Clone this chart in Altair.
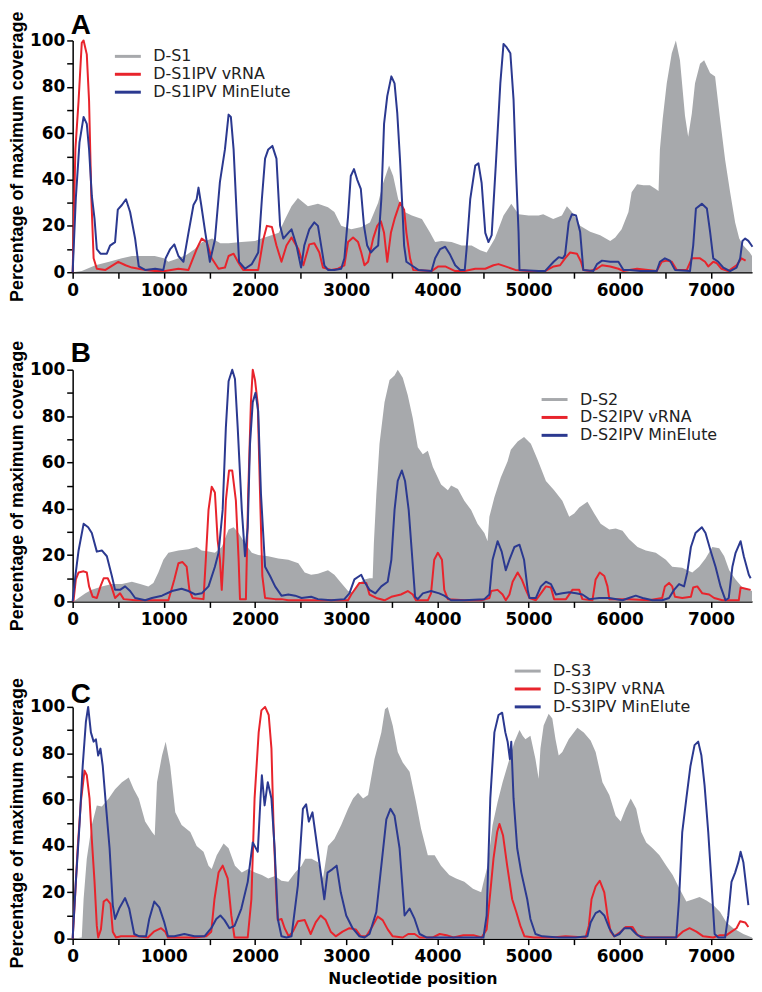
import altair as alt
import pandas as pd

GREY = "#a7a9ac"
RED = "#e8242c"
BLUE = "#2b3990"

A_NAMES = ["D-S1", "D-S1IPV vRNA", "D-S1IPV MinElute"]
B_NAMES = ["D-S2", "D-S2IPV vRNA", "D-S2IPV MinElute"]
C_NAMES = ["D-S3", "D-S3IPV vRNA", "D-S3IPV MinElute"]

A_GREY = [(0,0),(100,0.5),(250,3),(400,4.5),(540,6),(650,7),(800,7),(900,7),(1000,6),(1050,4.5),(1160,6),(1250,7.5),(1340,10),(1420,13),(1530,14.5),(1620,12.5),(1710,12.5),(1850,13),(2000,13.5),(2070,14.5),(2180,16),(2260,17),(2330,23),(2400,28.5),(2470,32),(2580,28.5),(2690,29.5),(2800,28),(2870,26),(2945,20),(3055,18.5),(3165,19.5),(3260,21.5),(3350,30),(3405,38.5),(3470,46),(3515,41.5),(3570,31.5),(3640,26),(3720,24.5),(3830,23),(3920,17),(3975,13),(4045,13.5),(4155,13),(4265,11.5),(4375,11.5),(4470,9.5),(4540,8.5),(4630,14.5),(4725,24.5),(4810,29.5),(4890,25),(5000,24.5),(5110,24.5),(5160,25),(5270,23),(5365,24.5),(5420,28.5),(5475,26),(5565,20),(5675,17.5),(5785,16),(5895,13.5),(5950,15),(6020,18.5),(6095,26),(6130,34.5),(6190,38),(6260,37.5),(6330,37.5),(6390,36),(6425,35),(6440,53),(6470,66),(6515,81.5),(6570,94.5),(6615,100),(6660,91.5),(6715,67.5),(6750,58.5),(6790,68.5),(6825,81.5),(6880,90),(6925,91.5),(6990,86),(7045,84.5),(7100,66),(7155,48.5),(7210,34.5),(7265,21.5),(7310,14.5),(7355,11.5),(7425,8.5),(7450,7)]
A_RED = [(0,0),(30,53),(65,74),(100,99),(120,100),(155,94),(180,74),(205,32),(230,6),(265,1.5),(360,1),(500,4.5),(580,3),(650,2),(800,1),(900,0.5),(1015,0.5),(1160,1.5),(1270,1),(1360,10),(1415,14.5),(1470,13),(1525,6),(1600,1.5),(1670,2),(1710,7),(1765,8),(1820,4),(1870,1),(2035,1),(2090,14),(2130,20),(2185,19.5),(2235,11.5),(2290,4.5),(2345,11.5),(2400,15),(2475,10),(2530,3),(2595,12),(2650,12.5),(2705,8.5),(2745,2),(2835,1),(2910,1.5),(2980,3),(3020,13),(3075,15),(3130,13),(3165,8.5),(3200,3),(3240,4.5),(3295,14.5),(3340,20),(3380,22),(3415,17),(3450,4.5),(3490,17),(3530,23),(3590,30),(3635,27),(3660,17),(3700,6),(3735,1),(3935,0.5),(4010,2.5),(4085,2.5),(4195,0.5),(4300,0.5),(4415,1.5),(4525,1.5),(4615,3),(4670,3.5),(4745,2.5),(4855,1),(5000,0.5),(5180,0.5),(5275,2.5),(5345,3),(5400,6),(5455,8.5),(5530,8),(5575,4.5),(5600,1),(5675,0.5),(5750,1.5),(5805,3),(5895,2.5),(5985,1.5),(6040,0.5),(6190,1.5),(6405,0.5),(6460,4.5),(6515,5),(6570,4.5),(6625,1),(6735,1),(6790,6),(6880,6),(6935,4.5),(6970,2.5),(7025,4.5),(7060,4),(7115,1.5),(7190,0.5),(7280,3),(7335,6),(7380,5)]
A_BLUE = [(0,0),(35,32),(75,56),(120,67),(155,64),(180,53),(210,33),(240,23),(265,10),(305,8),(375,8),(410,11.5),(465,13),(495,27),(540,29),(585,31.5),(630,26),(685,14.5),(725,2.5),(795,1),(905,1.5),(995,1),(1020,6),(1070,10),(1115,12),(1160,7),(1215,4.5),(1270,17),(1325,29),(1360,31.5),(1380,36.5),(1410,29),(1455,17),(1505,4.5),(1560,14),(1615,39),(1670,53),(1710,68),(1735,67),(1765,53),(1800,24),(1825,4.5),(1890,1.5),(1965,3.5),(2035,8.5),(2075,31.5),(2110,49),(2145,53),(2190,54.5),(2235,49),(2275,20),(2310,14.5),(2365,17),(2400,18.5),(2455,11.5),(2505,2),(2540,11.5),(2595,18.5),(2650,21.5),(2690,20),(2725,11.5),(2760,3),(2800,1),(2870,1),(2945,1.5),(2980,6),(3020,24),(3050,41.5),(3085,44.5),(3120,40),(3160,36),(3195,20),(3230,11.5),(3270,8.5),(3305,10),(3350,11.5),(3385,31.5),(3415,64),(3450,76),(3495,84.5),(3530,81.5),(3560,68.5),(3590,48.5),(3615,28.5),(3635,11.5),(3660,4.5),(3715,3),(3790,1),(3935,0.5),(3975,6),(4030,10),(4085,11),(4140,7.5),(4195,3),(4250,1),(4300,1),(4320,10),(4360,31.5),(4415,46),(4450,47),(4485,38.5),(4525,17),(4560,13),(4595,16),(4640,46),(4690,81.5),(4725,98.5),(4760,97),(4800,94.5),(4835,74.5),(4860,46),(4890,17),(4900,1),(5110,0.5),(5180,0.5),(5275,4.5),(5330,6.5),(5375,6),(5400,7.5),(5440,21.5),(5475,25),(5520,24.5),(5565,17.5),(5600,1),(5710,0.5),(5750,3.5),(5805,5),(5895,4.5),(5985,4.5),(6040,1),(6115,1),(6225,0.5),(6405,0.5),(6440,4.5),(6495,6),(6550,5),(6605,1),(6770,0.5),(6805,11.5),(6835,27.5),(6900,29.5),(6955,27.5),(6990,17.5),(7025,6),(7080,4.5),(7135,2),(7210,0.5),(7280,2),(7320,6),(7345,13.5),(7375,14.5),(7410,13.5),(7455,11)]

B_GREY = [(0,0),(30,0.5),(140,3.5),(210,5),(320,6.5),(430,7.5),(540,7.5),(650,8.5),(740,7.5),(830,6.5),(885,8),(940,12.5),(995,18),(1050,21),(1160,22),(1270,22.5),(1360,23.5),(1415,22),(1490,21.5),(1560,21),(1635,23.5),(1710,31),(1765,32),(1820,29.5),(1890,25),(1965,21),(2035,20),(2145,19.5),(2255,18.5),(2365,18),(2475,16.5),(2545,12.5),(2615,11.5),(2690,12),(2800,13.5),(2870,11.5),(2945,8),(3020,4.5),(3075,4),(3145,8),(3200,9.5),(3255,10),(3290,10),(3303,25),(3330,46),(3365,68),(3420,86),(3475,95.5),(3530,97.5),(3565,100),(3620,96.5),(3675,89),(3730,79),(3785,66.5),(3840,63.5),(3895,65),(3950,58),(4040,50.5),(4115,48),(4150,50),(4225,48.5),(4295,43.5),(4370,39.5),(4440,33.5),(4515,29.5),(4550,26),(4570,36.5),(4625,45),(4695,53.5),(4770,60.5),(4805,65.5),(4880,69),(4950,71),(5025,68),(5100,61),(5190,52),(5280,48),(5370,43.5),(5445,36.5),(5500,38),(5555,40.5),(5645,43),(5720,38),(5790,33.5),(5885,31),(5955,31.5),(6030,30.5),(6100,27),(6195,23.5),(6285,22),(6395,21),(6505,18),(6575,15),(6685,14.5),(6795,12.5),(6870,15),(6940,18.5),(7015,23.5),(7090,23),(7145,19.5),(7200,13.5),(7270,9.5),(7345,6),(7415,5),(7450,4.5)]
B_RED = [(0,0),(10,0.5),(35,9.5),(65,12.5),(120,13),(155,12.5),(180,6.5),(220,2),(265,1.5),(305,6.5),(340,10),(385,10),(425,6.5),(465,1.5),(520,3.5),(560,1),(685,0.5),(1050,0.5),(1115,9.5),(1160,16.5),(1205,17),(1250,15),(1280,5),(1315,1.5),(1435,1),(1460,18),(1490,39.5),(1525,49.5),(1560,47),(1590,26.5),(1615,18),(1635,5),(1655,19.5),(1680,43.5),(1715,56.5),(1750,56.5),(1790,43.5),(1820,18),(1835,1),(1900,1),(1925,46.5),(1955,86),(1975,100),(2000,95.5),(2030,85),(2055,46.5),(2080,11),(2110,1.5),(2220,1),(2290,1),(2365,0.5),(2510,0.5),(3020,0.5),(3055,3),(3145,8),(3220,8),(3255,3),(3330,1.5),(3420,0.5),(3495,2),(3600,3),(3675,4.5),(3730,3),(3765,0.5),(3895,0.5),(3930,3.5),(3965,18),(4005,21),(4050,18),(4075,5),(4115,1),(4300,0.5),(4480,0.5),(4570,1.5),(4590,4.5),(4660,5),(4715,3),(4750,0.5),(4790,3),(4825,8.5),(4880,12.5),(4925,9.5),(4970,5),(5010,1.5),(5080,0.5),(5135,3.5),(5190,6.5),(5245,6),(5280,1),(5410,1),(5480,5),(5555,5),(5590,1),(5700,0.5),(5735,9.5),(5780,12.5),(5830,11),(5865,6.5),(5885,1),(6100,1),(6320,0.5),(6465,1.5),(6495,6.5),(6540,8),(6575,6.5),(6605,2),(6685,1.5),(6780,2),(6805,6),(6850,6.5),(6905,3.5),(6980,3),(7035,1.5),(7125,0.5),(7305,0.5),(7325,6),(7380,5.5),(7435,5)]
B_BLUE = [(0,0),(30,11),(65,22),(120,33.5),(170,32),(210,29.5),(265,21.5),(320,22),(375,19.5),(430,11),(465,5),(520,5),(575,6.5),(630,4.5),(685,1.5),(795,0.5),(870,1.5),(980,2.5),(1090,4.5),(1195,5.5),(1270,4.5),(1345,3),(1415,3.5),(1490,6.5),(1560,15),(1600,21),(1645,39.5),(1680,75),(1710,95),(1750,100),(1780,96),(1810,75),(1855,39.5),(1890,19.5),(1920,32),(1945,68),(1975,86),(2005,90),(2035,82),(2065,46.5),(2110,15),(2165,11),(2220,6.5),(2290,2.5),(2365,3),(2440,2.5),(2510,1.5),(2615,2),(2690,1),(2835,0.5),(2980,1),(3035,3.5),(3090,9.5),(3165,11.5),(3200,8.5),(3255,5),(3320,3.5),(3385,6.5),(3455,8.5),(3495,18),(3530,39.5),(3565,52),(3610,56.5),(3645,52),(3685,39.5),(3720,21),(3755,2),(3785,1),(3840,3.5),(3930,4.5),(4020,3.5),(4075,2.5),(4150,0.5),(4295,0.5),(4515,1),(4570,3),(4605,18),(4660,26),(4705,21.5),(4750,13.5),(4790,18),(4845,23.5),(4900,24.5),(4950,18),(4990,5),(5010,1.5),(5080,1.5),(5135,6.5),(5190,8.5),(5245,7.5),(5300,3),(5370,3.5),(5445,4),(5520,3.5),(5590,3),(5665,1),(5775,1.5),(5885,1.5),(6030,0.5),(6100,1.5),(6175,2.5),(6250,1.5),(6360,0.5),(6465,0.5),(6540,1.5),(6595,5),(6650,7.5),(6705,6.5),(6740,12.5),(6780,23.5),(6830,29.5),(6900,32),(6940,29.5),(6995,22),(7050,15),(7105,6.5),(7160,0.5),(7195,1.5),(7235,15),(7270,21),(7325,26),(7360,19.5),(7415,11.5),(7435,10)]

C_GREY = [(0,0),(100,0.5),(120,17),(155,34.5),(210,49),(265,57.5),(320,57),(395,60.5),(465,64.5),(540,67.5),(615,69.5),(670,64.5),(725,60.5),(795,50.5),(870,46),(900,44.5),(925,67.5),(980,79),(1020,85),(1070,74.5),(1125,54.5),(1195,49),(1290,46),(1360,40),(1435,37.5),(1490,31.5),(1525,30),(1580,36),(1655,41),(1710,39),(1780,31.5),(1855,28.5),(1925,30),(2000,28.5),(2075,27.5),(2145,26),(2220,27),(2290,25),(2365,24.5),(2440,28.5),(2510,31.5),(2550,34.5),(2620,34.5),(2690,33),(2745,26),(2800,40),(2870,43),(2945,49),(3020,56),(3075,60.5),(3130,63),(3185,60.5),(3240,62),(3310,77.5),(3385,89),(3425,99),(3455,100),(3510,92),(3565,80.5),(3620,76),(3695,72),(3765,59),(3820,47.5),(3895,36),(3970,36),(4040,31.5),(4130,27.5),(4205,26),(4295,24.5),(4390,21.5),(4480,20),(4500,23.5),(4550,31.5),(4605,49),(4660,59),(4715,67.5),(4790,77.5),(4845,85),(4900,90),(4935,87.5),(4965,86),(5020,87.5),(5075,77.5),(5110,69),(5130,82),(5165,92),(5220,97),(5260,95),(5295,86),(5330,79),(5370,80.5),(5440,86),(5535,91),(5605,89),(5680,85.5),(5735,80.5),(5810,67.5),(5885,62),(5955,53),(6010,50.5),(6065,56),(6120,60.5),(6180,56),(6235,46),(6290,41.5),(6360,39),(6435,36),(6510,31.5),(6580,27.5),(6655,21.5),(6730,16),(6805,17),(6875,18),(6950,16.5),(7025,14.5),(7100,11.5),(7170,7),(7245,4.5),(7355,2),(7450,0.5)]
C_RED = [(0,0),(25,17),(55,39),(90,59),(130,72.5),(155,70.5),(185,60.5),(210,43),(240,24.5),(265,5.5),(280,0.5),(310,4),(340,16),(375,17),(415,15),(440,3),(475,0.5),(530,1),(640,1),(715,1),(825,0.5),(890,3),(970,4.5),(1015,3),(1045,0.5),(1190,0.5),(1335,0.5),(1465,1),(1520,3),(1555,17),(1600,28.5),(1645,31.5),(1700,26),(1740,10),(1775,0.5),(1920,0.5),(1960,17),(1995,60.5),(2040,89),(2070,98.5),(2110,100),(2150,96.5),(2180,82),(2205,46),(2235,17),(2250,8),(2290,8.5),(2325,4.5),(2370,1),(2415,3),(2470,7.5),(2545,8),(2610,2),(2665,7),(2720,10),(2775,8),(2830,3),(2885,1),(2960,3),(3035,4.5),(3105,4),(3160,1),(3220,1),(3290,5.5),(3345,9.5),(3400,8),(3455,4),(3510,1),(3620,0.5),(3680,2),(3750,2),(3805,0.5),(3950,0.5),(4025,2),(4100,1.5),(4175,0.5),(4285,1.5),(4395,1.5),(4485,0.5),(4540,4),(4580,20),(4615,34.5),(4655,46),(4680,49.5),(4720,44.5),(4765,31.5),(4820,17),(4865,11.5),(4910,5.5),(4955,1),(5060,0.5),(5260,0.5),(5405,1),(5625,0.5),(5660,5.5),(5690,17),(5735,22.5),(5780,25),(5830,20),(5865,10),(5900,3),(5940,1),(6010,3),(6065,5),(6140,5),(6195,1.5),(6290,0.5),(6620,0.5),(6690,3),(6765,4.5),(6840,3),(6915,1),(7025,0.5),(7100,1.5),(7170,1.5),(7225,3),(7280,4.5),(7320,7.5),(7375,7),(7410,5)]
C_BLUE = [(0,0),(35,24.5),(75,49),(110,74.5),(145,93.5),(170,100),(200,89),(230,85),(255,86),(280,79),(305,82),(330,74.5),(365,57.5),(405,39),(440,14.5),(465,8.5),(510,13),(575,17.5),(620,13),(675,2),(730,1),(805,1),(840,8.5),(895,16),(950,13.5),(1005,7),(1045,1),(1115,1),(1225,2),(1335,1),(1445,1),(1520,4.5),(1575,8.5),(1620,10),(1665,8),(1720,4.5),(1775,5.5),(1850,13),(1920,24.5),(1975,41.5),(2030,37.5),(2060,60.5),(2075,70.5),(2105,57.5),(2140,67.5),(2180,60.5),(2215,39),(2250,8.5),(2290,1),(2345,0.5),(2400,1),(2470,23),(2525,56),(2560,58),(2590,50.5),(2630,54.5),(2665,44.5),(2710,31.5),(2760,17),(2795,28.5),(2850,30),(2895,31.5),(2940,20),(3000,10),(3070,4.5),(3145,1),(3200,0.5),(3255,2),(3330,11.5),(3385,31.5),(3440,51.5),(3485,56),(3530,53),(3585,39),(3640,10),(3695,13),(3750,8.5),(3805,2),(3880,0.5),(4025,0.5),(4320,0.5),(4505,0.5),(4540,10),(4580,60.5),(4625,89),(4670,96.5),(4710,97.5),(4745,89),(4770,85),(4795,77.5),(4810,85),(4835,60.5),(4875,39),(4920,28.5),(4985,17),(5020,8.5),(5075,2),(5150,1),(5330,0.5),(5515,0.5),(5645,1),(5680,7),(5735,11),(5780,12),(5830,10),(5885,4.5),(5940,1),(5995,2),(6050,4.5),(6120,4.5),(6180,2),(6235,0.5),(6435,0.5),(6620,0.5),(6650,17),(6685,46),(6730,60.5),(6775,74.5),(6820,83.5),(6860,85),(6895,79),(6930,66),(6970,46),(7005,24.5),(7040,2),(7080,0.5),(7155,0.5),(7190,10),(7225,24.5),(7265,28.5),(7300,33),(7325,37.5),(7355,33),(7385,23),(7410,14.5)]

X_TICKS = list(range(0, 7001, 500))
Y_TICKS = list(range(0, 101, 10))
X_MAX = 7450
Y_TITLE = "Percentage of maximum coverage"
X_TITLE = "Nucleotide position"

W, H = 683, 233
LEGEND_SYMBOL = "M-1.63,0H1.63"


def panel(letter, names, grey, red, blue, lx, ly, letter_y, x_title):
    rows = []
    for name, pts in zip(names, (grey, red, blue)):
        for p, v in pts:
            rows.append({"pos": p, "pct": v, "series": name})
    df = pd.DataFrame(rows)

    color = alt.Color(
        "series:N",
        scale=alt.Scale(domain=names, range=[GREY, RED, BLUE]),
        legend=alt.Legend(
            orient="none", legendX=lx, legendY=ly, title=None,
            symbolType=LEGEND_SYMBOL, symbolStrokeWidth=3, symbolSize=256,
            symbolOpacity=1, labelFont="DejaVu Sans", labelFontSize=16,
            labelColor="#222222", labelOffset=16, rowPadding=0,
        ),
    )
    xaxis_kw = dict(
        values=X_TICKS,
        labelExpr="datum.value % 1000 === 0 ? format(datum.value, 'd') : ''",
        labelFlush=False, labelOverlap=False, labelPadding=4,
    )
    if x_title:
        xaxis = alt.Axis(title=x_title, titleFont="DejaVu Sans", titleFontSize=15.5,
                         titleFontWeight="bold", titlePadding=7, **xaxis_kw)
    else:
        xaxis = alt.Axis(title=None, **xaxis_kw)
    x = alt.X("pos:Q", scale=alt.Scale(domain=[0, X_MAX], nice=False, zero=False), axis=xaxis)
    y = alt.Y("pct:Q", scale=alt.Scale(domain=[0, 100], nice=False),
              axis=alt.Axis(values=Y_TICKS, title=Y_TITLE, labelOverlap=False,
                            labelExpr="datum.value % 20 === 0 ? datum.label : ''"))

    base = alt.Chart(df)
    area = base.transform_filter(alt.datum.series == names[0]).mark_area(
        opacity=1, interpolate="linear").encode(x=x, y=y, color=color)
    l_red = base.transform_filter(alt.datum.series == names[1]).mark_line(
        strokeWidth=2, strokeJoin="round").encode(x=x, y=y, color=color)
    l_blue = base.transform_filter(alt.datum.series == names[2]).mark_line(
        strokeWidth=2, strokeJoin="round").encode(x=x, y=y, color=color)
    tag = alt.Chart(pd.DataFrame({"tag": [letter]})).mark_text(
        align="left", baseline="alphabetic", font="Liberation Sans", fontSize=28,
        fontWeight="bold", color="black",
    ).encode(text="tag:N", x=alt.value(-2), y=alt.value(letter_y))
    return alt.layer(area, l_red, l_blue, tag).properties(width=W, height=H)


pa = panel("A", A_NAMES, A_GREY, A_RED, A_BLUE, 46, 6.5, -6, None)
pb = panel("B", B_NAMES, B_GREY, B_RED, B_BLUE, 475, 20.5, -8, None)
pc = panel("C", C_NAMES, C_GREY, C_RED, C_BLUE, 448, -45.5, -4, X_TITLE)

lower = alt.vconcat(pb, pc, spacing=30).resolve_scale(color="independent")
chart = alt.vconcat(pa, lower, spacing=38).resolve_scale(color="independent").properties(
    padding=0
).configure_view(stroke=None).configure_axis(
    domainColor="black", domainWidth=1.5, tickColor="black", tickWidth=1.5, tickSize=6,
    labelFont="DejaVu Sans", labelFontWeight="bold", labelFontSize=17, labelColor="black",
    titleFont="Liberation Sans", titleFontWeight="bold", titleFontSize=18, titleColor="black",
    grid=False,
).configure_axisY(labelPadding=2, titlePadding=3)

chart.save("out.html", embed_options={"renderer": "svg", "actions": False})
